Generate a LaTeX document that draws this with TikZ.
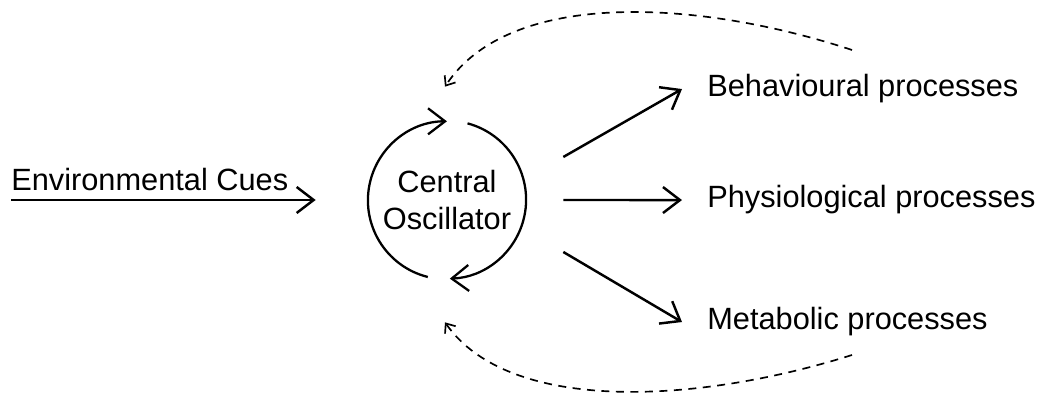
\documentclass[tikz,border=0pt]{standalone}
\usepackage{fontspec}
\setmainfont{Liberation Sans}
\usepackage{tikz}
\usetikzlibrary{arrows.meta,calc,positioning}
\tikzset{
  flecha/.style={-{Straight Barb[length=0.34cm,width=0.52cm]},line width=1.4pt},
  giro/.style={-{Straight Barb[length=0.34cm,width=0.52cm]},line width=1.3pt},
  retro/.style={-{Straight Barb[length=0.16cm,width=0.26cm]},line width=0.95pt,dash pattern=on 0.16cm off 0.13cm},
  texto/.style={inner sep=0pt,font=\fontsize{17.5}{21}\selectfont},
  salida/.style={texto,anchor=base west,inner xsep=0.5cm}
}

\begin{document}
\begin{tikzpicture}[x=0.02cm,y=0.02cm]
\useasboundingbox (0,0) rectangle (1042,398);
\node[texto,anchor=base west] (env) at (11,207) {Environmental Cues};
\node[texto,circle,minimum size=3.16cm,align=center] (osc) at (447,198) {Central\\Oscillator};
\node[salida] (beh) at (682,301) {Behavioural processes};
\node[salida] (phy) at (682,190) {Physiological processes};
\node[salida] (met) at (682,68) {Metabolic processes};
% oscillator loop
\draw[giro] (osc.256) arc[start angle=256,end angle=90,radius=79];
\draw[giro] (osc.75) arc[start angle=75,end angle=-88,radius=79];
% input and outputs
\draw[flecha] (env.south west |- osc.west) -- (osc.west) [shorten >=1.04cm];
\draw[flecha] ($(osc.east)+(37,43)$) -- (beh.west);
\draw[flecha] ($(osc.east)+(37,0)$) -- (phy.west);
\draw[flecha] ($(osc.east)+(37,-52)$) -- (met.west);
% feedback
\coordinate (fbtop) at (852,348);
\coordinate (fbbot) at (852,43);
\draw[retro] (fbtop) .. controls (700,398) and (510,410) .. ($(osc.north)+(-2,34)$);
\draw[retro] (fbbot) .. controls (700,-5) and (510,-17) .. ($(osc.south)+(-2,-43)$);
\end{tikzpicture}
\end{document}
